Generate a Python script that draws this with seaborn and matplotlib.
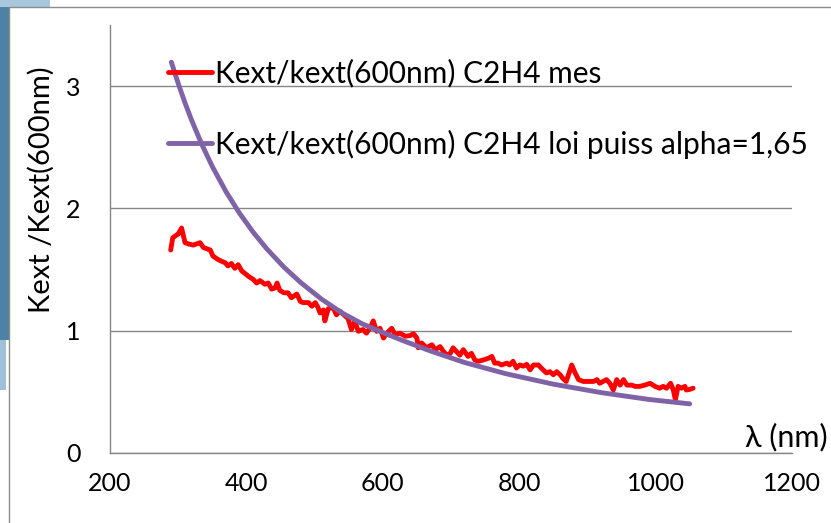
import matplotlib
matplotlib.use("Agg")
import matplotlib.pyplot as plt
import seaborn as sns
import pandas as pd
from matplotlib.patches import Rectangle

# ---- data ----
wl_mes = [289, 292, 297, 300, 305, 310, 315, 322, 332, 337, 347, 351, 359, 369, 373, 378,
          383, 388, 393, 403, 410, 415, 420, 427, 432, 437, 442, 445, 449, 455, 461, 466,
          474, 479, 483, 491, 496, 501, 505, 508, 513, 515, 520, 527, 532, 537, 545, 549,
          554, 559, 564, 571, 576, 581, 586, 591, 596, 601, 606, 613, 618, 625, 633, 640,
          645, 650, 652, 657, 664, 672, 677, 684, 689, 694, 699, 703, 708, 713, 718, 725,
          730, 735, 740, 747, 755, 760, 764, 769, 774, 782, 786, 791, 796, 801, 806, 811,
          816, 821, 828, 835, 840, 845, 850, 855, 860, 864, 869, 877, 882, 887, 894, 901,
          909, 914, 918, 923, 928, 933, 938, 943, 948, 953, 958, 965, 970, 977, 984, 992,
          999, 1006, 1011, 1016, 1022, 1026, 1029, 1033, 1038, 1043, 1045, 1050, 1055]
k_mes = [1.66, 1.76, 1.78, 1.79, 1.84, 1.72, 1.71, 1.70, 1.72, 1.68, 1.66, 1.61, 1.58, 1.555, 1.53, 1.55,
         1.51, 1.54, 1.49, 1.445, 1.42, 1.39, 1.41, 1.38, 1.39, 1.34, 1.35, 1.39, 1.33, 1.31, 1.31, 1.27,
         1.30, 1.24, 1.23, 1.23, 1.20, 1.23, 1.19, 1.145, 1.17, 1.08, 1.18, 1.19, 1.13, 1.16, 1.12, 1.10,
         1.01, 1.08, 0.995, 1.01, 0.98, 1.02, 1.08, 0.995, 1.02, 0.94, 0.98, 1.02, 0.97, 0.98, 0.955, 0.96,
         0.975, 0.94, 0.86, 0.90, 0.86, 0.885, 0.845, 0.87, 0.83, 0.80, 0.815, 0.86, 0.83, 0.80, 0.845, 0.79,
         0.815, 0.76, 0.75, 0.76, 0.775, 0.79, 0.735, 0.735, 0.72, 0.735, 0.72, 0.75, 0.695, 0.72, 0.71, 0.725,
         0.68, 0.72, 0.72, 0.68, 0.655, 0.665, 0.64, 0.665, 0.64, 0.61, 0.585, 0.72, 0.655, 0.60, 0.585, 0.585,
         0.585, 0.60, 0.57, 0.585, 0.60, 0.57, 0.515, 0.60, 0.555, 0.60, 0.555, 0.555, 0.545, 0.545, 0.555, 0.57,
         0.545, 0.53, 0.545, 0.53, 0.57, 0.515, 0.435, 0.545, 0.53, 0.545, 0.515, 0.52, 0.53]

wl_fit = [290, 300, 310, 320, 335, 350, 370, 390, 410, 430, 455, 480, 510, 540, 570, 600,
          630, 670, 720, 780, 850, 920, 990, 1050]
k_fit = [3.196, 3.022, 2.863, 2.717, 2.519, 2.343, 2.138, 1.960, 1.805, 1.669, 1.520, 1.392, 1.259,
         1.146, 1.056, 0.985, 0.918, 0.834, 0.740, 0.649, 0.563, 0.494, 0.438, 0.402]

label_mes = "Kext/kext(600nm) C2H4 mes"
label_fit = "Kext/kext(600nm) C2H4 loi puiss alpha=1,65"
x_ticks = [200, 400, 600, 800, 1000, 1200]
y_ticks = [0, 1, 2, 3]

df_mes = pd.DataFrame({"wl": wl_mes, "k": k_mes})
df_fit = pd.DataFrame({"wl": wl_fit, "k": k_fit})

sns.set_style("white")
plt.rcParams["font.family"] = ["Lato", "DejaVu Sans"]
plt.rcParams["text.color"] = "black"
plt.rcParams["axes.labelcolor"] = "black"

W, H = 831, 523
fig = plt.figure(figsize=(W / 100, H / 100), dpi=100)

# background decorations (slide frame)
def fig_rect(x0, y0, w, h, **kw):
    r = Rectangle((x0 / W, 1 - (y0 + h) / H), w / W, h / H, transform=fig.transFigure,
                  zorder=-5, **kw)
    fig.patches.append(r)

fig_rect(0, 0, 9, 340, facecolor="#4b82a6", edgecolor="none")
fig_rect(0, 340, 6, 50, facecolor="#9fc0d8", edgecolor="none")
fig_rect(0, 0, 50, 7, facecolor="#a9c7dc", edgecolor="none")
fig_rect(9, 7, 900, 600, facecolor="white", edgecolor="#8c8c8c", linewidth=1.0)

ax = fig.add_axes([110 / W, 1 - 453 / H, (792 - 110) / W, (453 - 25) / H])
ax.set_facecolor("none")

sns.lineplot(data=df_mes, x="wl", y="k", ax=ax, color="#ff0000", linewidth=3.5,
             label=label_mes, estimator=None, sort=False, zorder=3)
sns.lineplot(data=df_fit, x="wl", y="k", ax=ax, color="#7f63a6", linewidth=3.5,
             label=label_fit, estimator=None, sort=False, zorder=4)

ax.set_xlim(200, 1200)
ax.set_ylim(0, 3.5)
ax.set_xticks(x_ticks)
ax.set_yticks(y_ticks)
ax.set_xlabel("")
ax.set_ylabel("Kext /Kext(600nm)", fontsize=21, color="black")
ax.yaxis.set_label_coords(-0.081, 0.615)

for s in ["top", "right"]:
    ax.spines[s].set_visible(False)
for s in ["left", "bottom"]:
    ax.spines[s].set_color("#868686")
    ax.spines[s].set_linewidth(1.0)
ax.grid(axis="y", color="#868686", linewidth=1.0)
ax.grid(axis="x", visible=False)
ax.tick_params(axis="both", direction="out", length=7, width=1.0, color="#868686",
               labelsize=18, labelcolor="black")
ax.tick_params(axis="y", pad=14)
ax.tick_params(axis="x", pad=7)
ax.set_axisbelow(True)

leg = ax.legend(loc="upper left", bbox_to_anchor=(58 / 682, 1 - 34 / 428), frameon=False,
                fontsize=21.5, handlelength=1.47, handletextpad=0.1, labelspacing=1.41,
                borderaxespad=0, borderpad=0)
for t in leg.get_texts():
    t.set_color("black")

fig.text(745 / W, 1 - 437 / H, "λ (nm)", fontsize=22, ha="left", va="center", color="black")

fig.savefig("out.png", dpi=100)
